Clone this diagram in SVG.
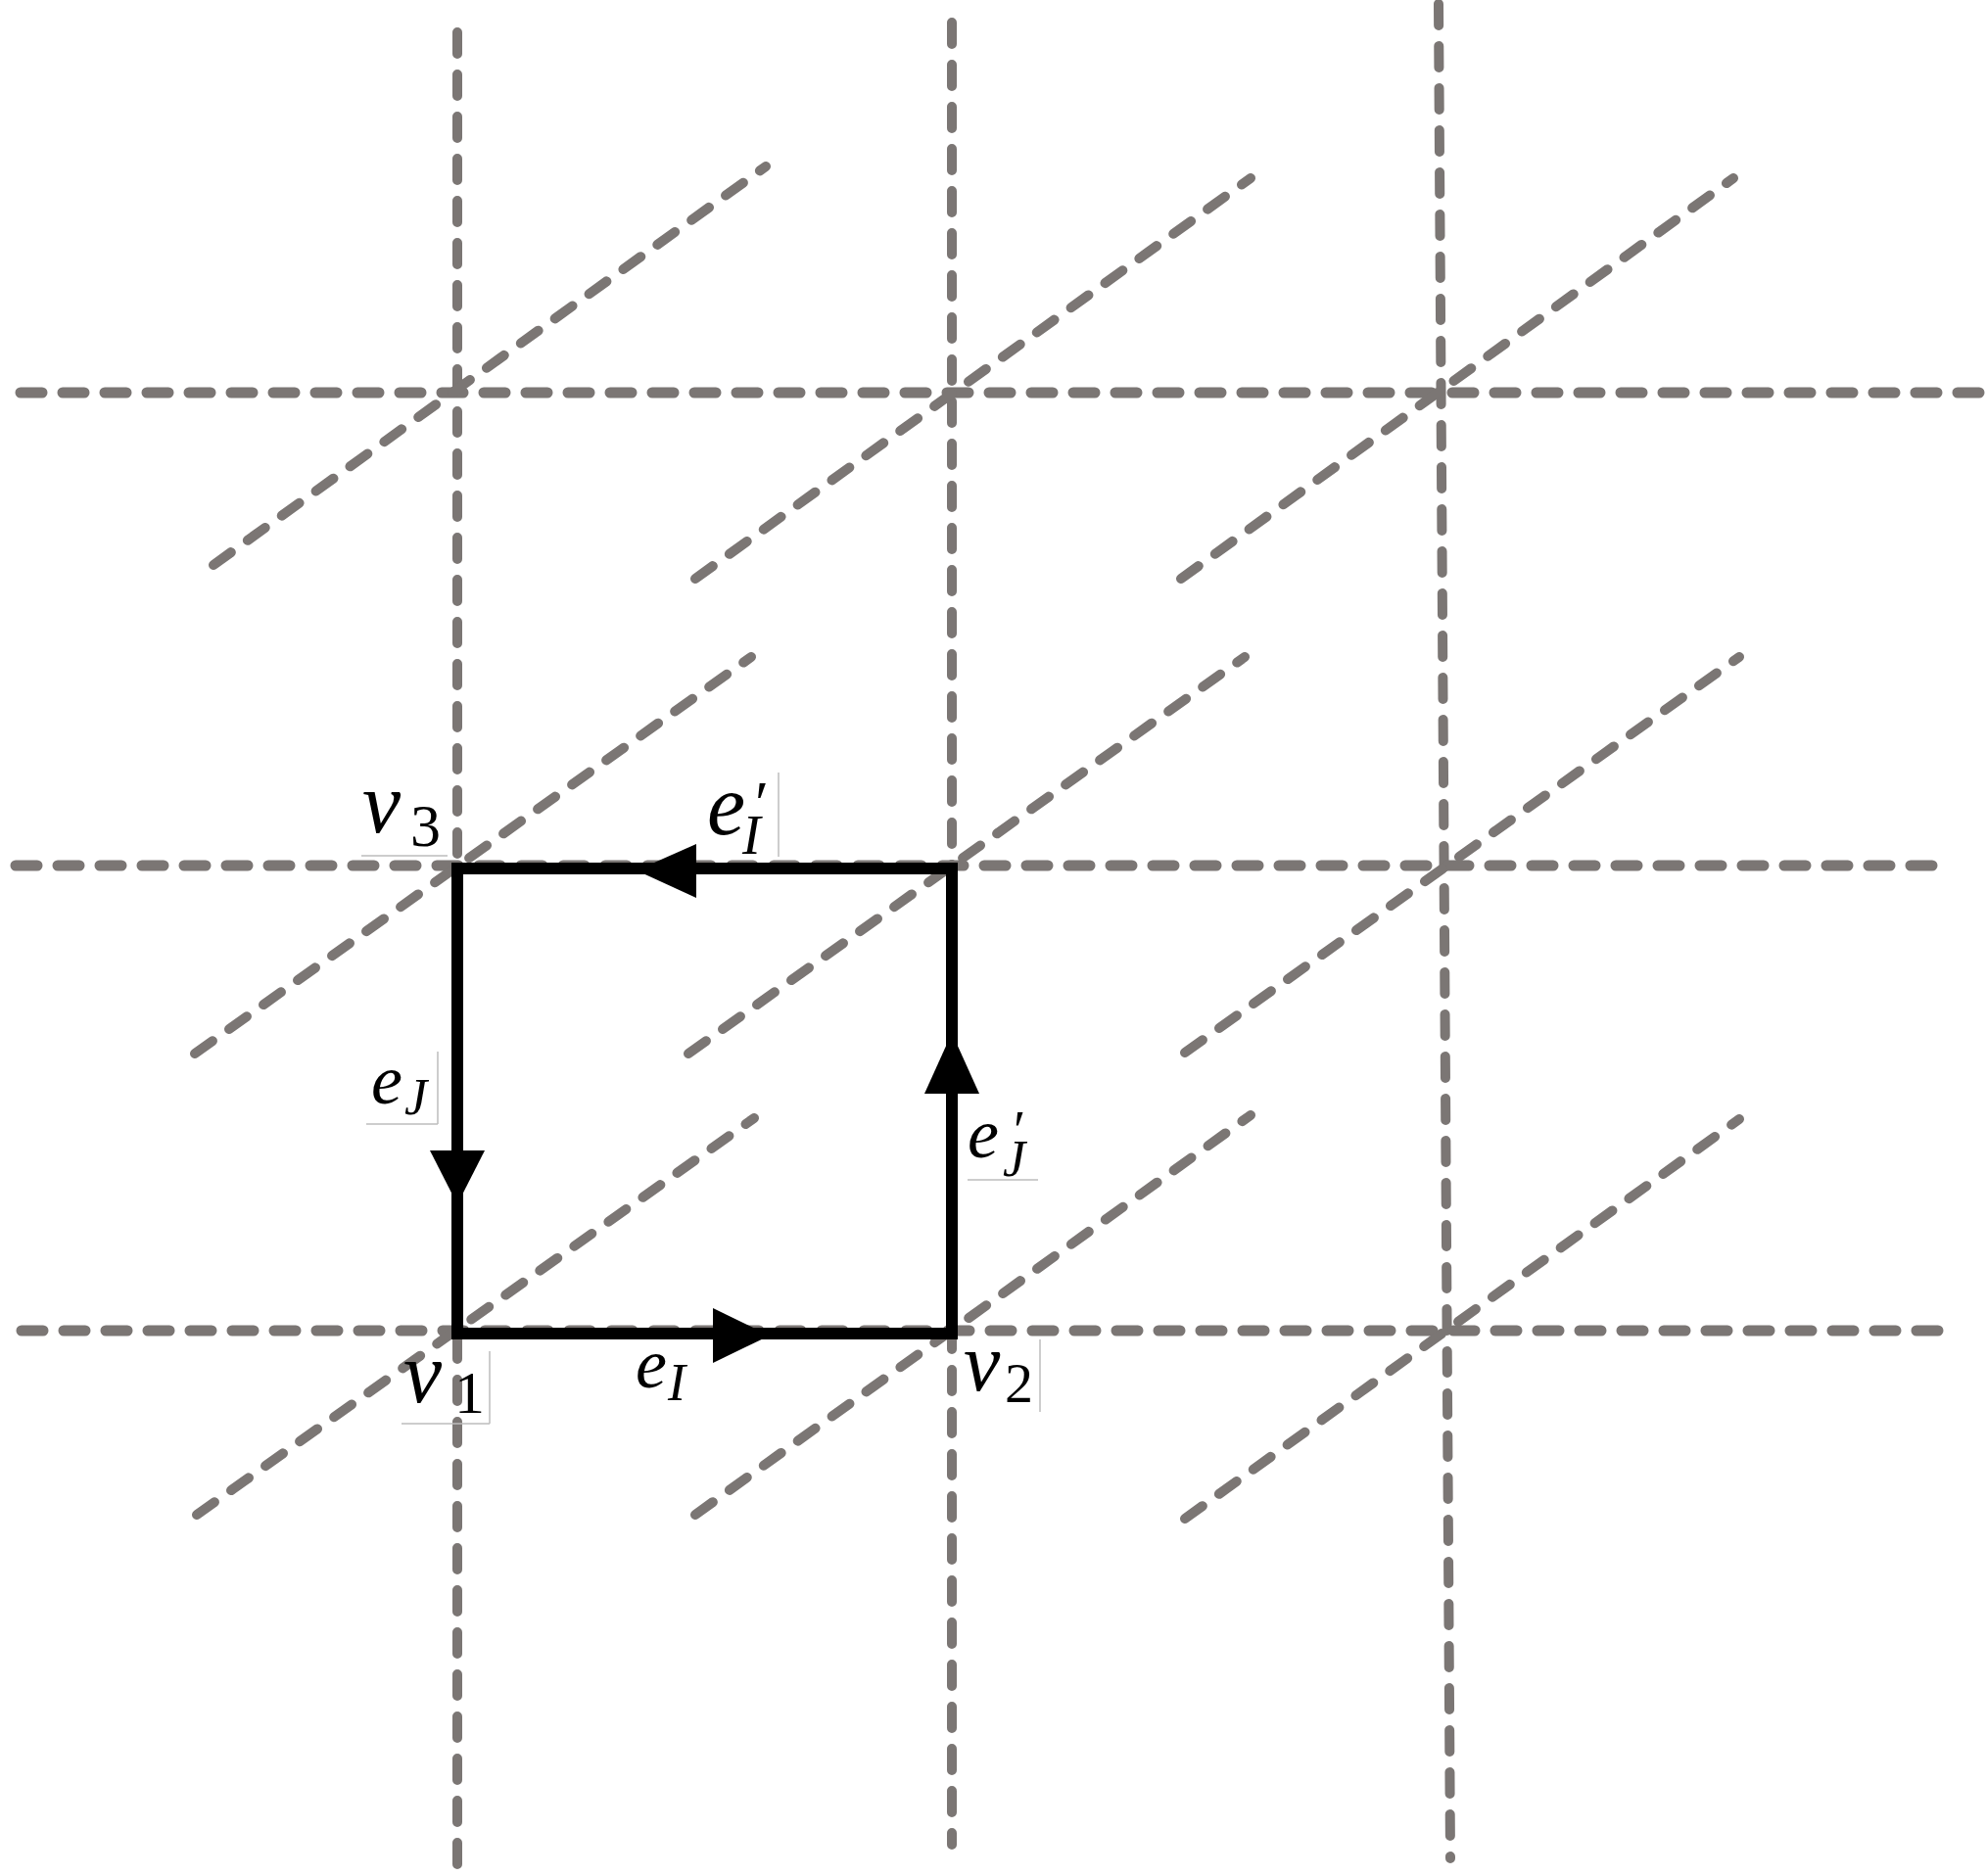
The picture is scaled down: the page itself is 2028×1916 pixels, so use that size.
<svg xmlns="http://www.w3.org/2000/svg" width="2028" height="1916" viewBox="0 0 2028 1916">
<style>
.grid{stroke:#7b7674;stroke-width:10;stroke-linecap:round;stroke-dasharray:22 21;fill:none}
.gh{stroke-width:11}
.edge{stroke:#000;stroke-width:12;stroke-linecap:square;fill:none}
.head{fill:#000}
.thin{stroke:#bdbdbd;stroke-width:1.5;fill:none}
.m{font-family:"Liberation Serif","DejaVu Serif",serif;font-style:italic;fill:#000}
.d{font-style:normal}
</style>
<rect width="2028" height="1916" fill="#fff"/>
<g id="grid">
<line class="grid" x1="467" y1="33" x2="467" y2="1916"/>
<line class="grid" x1="972" y1="23" x2="972" y2="1884"/>
<line class="grid" x1="1469" y1="4" x2="1481" y2="1898"/>
<line class="grid gh" x1="21" y1="401" x2="2024" y2="401"/>
<line class="grid gh" x1="16" y1="884" x2="1985" y2="884"/>
<line class="grid gh" x1="22" y1="1359" x2="1992" y2="1359"/>
<line class="grid" x1="218" y1="577" x2="782" y2="170"/>
<line class="grid" x1="710" y1="591" x2="1277" y2="182"/>
<line class="grid" x1="1206" y1="591" x2="1770" y2="182"/>
<line class="grid" x1="199" y1="1076" x2="767" y2="671"/>
<line class="grid" x1="703" y1="1076" x2="1271" y2="671"/>
<line class="grid" x1="1210" y1="1075" x2="1776" y2="671"/>
<line class="grid" x1="201" y1="1547" x2="770" y2="1142"/>
<line class="grid" x1="710" y1="1547" x2="1277" y2="1139"/>
<line class="grid" x1="1210" y1="1551" x2="1776" y2="1143"/>
</g>
<g id="artifacts">
<line class="thin" x1="369" y1="874" x2="457" y2="874"/>
<line class="thin" x1="795" y1="789" x2="795" y2="875"/>
<line class="thin" x1="447" y1="1074" x2="447" y2="1148"/>
<line class="thin" x1="374" y1="1148" x2="447" y2="1148"/>
<line class="thin" x1="988" y1="1205" x2="1060" y2="1205"/>
<line class="thin" x1="500" y1="1380" x2="500" y2="1454"/>
<line class="thin" x1="410" y1="1454" x2="500" y2="1454"/>
<line class="thin" x1="1062" y1="1368" x2="1062" y2="1442"/>
</g>
<g id="connectors">
<g id="e_I">
<line class="edge" x1="467" y1="1362" x2="972" y2="1362"/>
<polygon class="head" points="786,1364 728,1336 728,1392"/>
<text class="m" x="649" y="1417" font-size="72">e<tspan x="682" y="1430" font-size="54">I</tspan></text>
</g>
<g id="e_J_prime">
<line class="edge" x1="972" y1="1362" x2="972" y2="887"/>
<polygon class="head" points="972,1055 944,1117 1000,1117"/>
<text class="m" x="988" y="1182" font-size="72">e<tspan class="d" x="1035" y="1174" font-size="56">′</tspan><tspan x="1024" y="1201" font-size="52">J</tspan></text>
</g>
<g id="e_I_prime">
<line class="edge" x1="972" y1="887" x2="467" y2="887"/>
<polygon class="head" points="650,889 711,862 711,917"/>
<text class="m" x="722" y="852" font-size="88">e<tspan class="d" x="771" y="842" font-size="64">′</tspan><tspan x="758" y="872" font-size="56">I</tspan></text>
</g>
<g id="e_J">
<line class="edge" x1="467" y1="887" x2="467" y2="1362"/>
<polygon class="head" points="467,1230 439,1175 495,1175"/>
<text class="m" x="379" y="1127" font-size="72">e<tspan x="413" y="1138" font-size="52">J</tspan></text>
</g>
</g>
<g id="v1">
<text class="m" x="412" y="1432" font-size="88">v<tspan class="d" x="464" y="1443" font-size="62">1</tspan></text>
</g>
<g id="v2">
<text class="m" x="984" y="1420" font-size="84">v<tspan class="d" x="1026" y="1432" font-size="58">2</tspan></text>
</g>
<g id="v3">
<text class="m" x="370" y="850" font-size="88">v<tspan class="d" x="419" y="864" font-size="62">3</tspan></text>
</g>
</svg>
